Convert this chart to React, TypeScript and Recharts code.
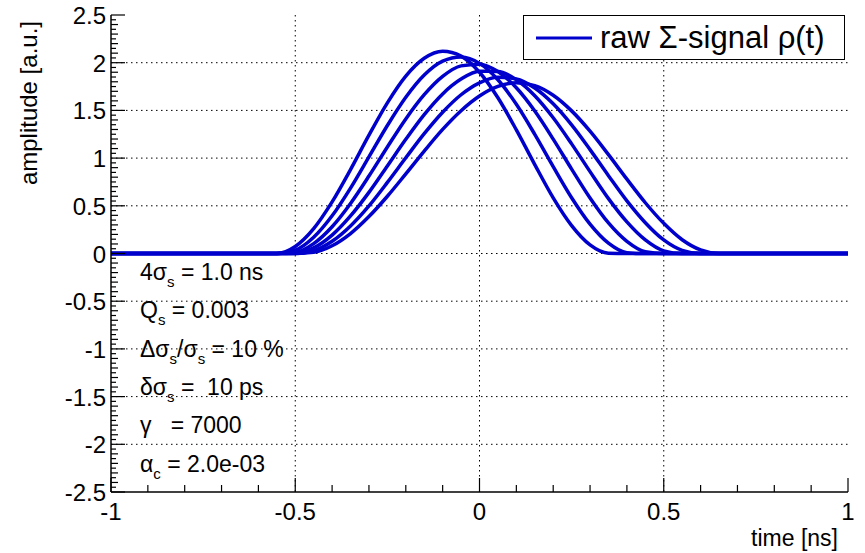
import React from 'react';
import { LineChart, Line, XAxis, YAxis, CartesianGrid, Legend } from 'recharts';

// time axis samples [ns]
const times = [-1, -0.6, -0.55, -0.5, -0.45, -0.4, -0.35, -0.3, -0.25, -0.2, -0.15, -0.1, -0.05, 0, 0.05, 0.1, 0.15, 0.2, 0.25, 0.3, 0.35, 0.4, 0.45, 0.5, 0.55, 0.6, 0.65, 0.7, 1];

// raw sum signal, one array per bunch
const rho1 = [0, 0, 0, 0.074, 0.261, 0.541, 0.88, 1.24, 1.579, 1.859, 2.046, 2.12, 2.069, 1.9, 1.632, 1.296, 0.932, 0.583, 0.292, 0.09, 0.003, 0, 0, 0, 0, 0, 0, 0, 0];
const rho2 = [0, 0, 0, 0.034, 0.17, 0.395, 0.686, 1.013, 1.342, 1.638, 1.871, 2.017, 2.06, 1.993, 1.821, 1.564, 1.249, 0.911, 0.585, 0.308, 0.108, 0.009, 0, 0, 0, 0, 0, 0, 0];
const rho3 = [0, 0, 0, 0.012, 0.104, 0.281, 0.525, 0.812, 1.117, 1.411, 1.665, 1.857, 1.967, 1.985, 1.907, 1.737, 1.493, 1.199, 0.885, 0.582, 0.32, 0.127, 0.018, 0, 0, 0, 0, 0, 0];
const rho4 = [0, 0, 0, 0.002, 0.059, 0.193, 0.394, 0.641, 0.918, 1.197, 1.456, 1.673, 1.828, 1.91, 1.909, 1.821, 1.654, 1.423, 1.149, 0.858, 0.575, 0.331, 0.142, 0.028, 0, 0, 0, 0, 0];
const rho5 = [0, 0, 0, 0, 0.029, 0.128, 0.289, 0.499, 0.745, 1.003, 1.256, 1.481, 1.664, 1.789, 1.847, 1.83, 1.735, 1.569, 1.348, 1.089, 0.816, 0.552, 0.323, 0.142, 0.033, 0, 0, 0, 0];
const rho6 = [0, 0, 0, 0, 0.012, 0.081, 0.209, 0.387, 0.6, 0.835, 1.074, 1.301, 1.497, 1.651, 1.751, 1.79, 1.76, 1.659, 1.495, 1.282, 1.036, 0.779, 0.532, 0.316, 0.144, 0.037, 0, 0, 0];

const signals = [rho1, rho2, rho3, rho4, rho5, rho6];

const xLabels = [-1, -0.5, 0, 0.5, 1];
const yLabels = [-2.5, -2, -1.5, -1, -0.5, 0, 0.5, 1, 1.5, 2, 2.5];
const xGrid = [-0.5, 0, 0.5];
const yGrid = [-2, -1.5, -1, -0.5, 0, 0.5, 1, 1.5, 2];

// minor tick positions
const xTicks = Array.from({ length: 21 }, (_, i) => Math.round(-10 + i) / 10);
const yTicks = Array.from({ length: 101 }, (_, i) => Math.round(-250 + i * 5) / 100);

const legendName = 'raw \u03A3-signal \u03C1(t)';

const notes = [
  [['4\u03C3', 's'], [' = 1.0 ns', '']],
  [['Q', 's'], [' = 0.003', '']],
  [['\u0394\u03C3', 's'], ['/\u03C3', 's'], [' = 10 %', '']],
  [['\u03B4\u03C3', 's'], [' =  10 ps', '']],
  [['\u03B3   = 7000', '']],
  [['\u03B1', 'c'], [' = 2.0e-03', '']],
];

const FONT = '"Liberation Sans", Arial, Helvetica, sans-serif';
const BLUE = '#0000cc';

const table = times.map((t, i) => {
  const row: any = { t };
  signals.forEach((s, k) => (row[`s${k}`] = s[i]));
  return row;
});

const isX = (v: number, list: number[]) => list.some((m) => Math.abs(m - v) < 1e-6);
const ySize = (v: number) => (isX(v, yLabels) ? 14 : Math.abs(Math.round(v * 100) % 10) < 1e-6 ? 7 : 5);

const BottomTick = (p: any) => {
  const v = p.payload.value;
  const major = isX(v, xLabels);
  return (
    <g>
      <line x1={p.x} x2={p.x} y1={p.y} y2={p.y - (major ? 14 : 7)} stroke="#000" strokeWidth={1.2} />
      {major && (
        <text x={p.x} y={p.y + 28} textAnchor="middle" fontFamily={FONT} fontSize={24} fill="#000">
          {String(v)}
        </text>
      )}
    </g>
  );
};

const TopTick = (p: any) => {
  const major = isX(p.payload.value, xLabels);
  return <line x1={p.x} x2={p.x} y1={p.y} y2={p.y + (major ? 14 : 7)} stroke="#000" strokeWidth={1.2} />;
};

const LeftTick = (p: any) => {
  const v = p.payload.value;
  const major = isX(v, yLabels);
  return (
    <g>
      <line x1={p.x} x2={p.x + ySize(v)} y1={p.y} y2={p.y} stroke="#000" strokeWidth={1.2} />
      {major && (
        <text x={p.x - 5} y={p.y + 9} textAnchor="end" fontFamily={FONT} fontSize={24} fill="#000">
          {String(v)}
        </text>
      )}
    </g>
  );
};

const RightTick = (p: any) => (
  <line x1={p.x} x2={p.x - ySize(p.payload.value)} y1={p.y} y2={p.y} stroke="#000" strokeWidth={1.2} />
);

const LegendBox = ({ payload }: any) => {
  const item = payload && payload[0];
  return (
    <div
      style={{
        width: 322,
        height: 45,
        border: '1.5px solid #000',
        background: '#fff',
        boxSizing: 'border-box',
        display: 'flex',
        alignItems: 'center',
        fontFamily: FONT,
        fontSize: 31,
        color: '#000',
      }}
    >
      <svg width={76} height={40}>
        <line x1={12} x2={68} y1={20} y2={20} stroke={item?.color ?? BLUE} strokeWidth={3} />
      </svg>
      <span style={{ whiteSpace: 'pre' }}>{item?.value ?? legendName}</span>
    </div>
  );
};

export default function App() {
  return (
    <div style={{ position: 'absolute', left: 0, top: 0, width: 865, height: 553, background: '#fff' }}>
      <LineChart width={865} height={553} data={table} margin={{ top: 15, right: 17, bottom: 0, left: 0 }}>
        <CartesianGrid
          stroke="#000"
          strokeWidth={1}
          strokeDasharray="1.5 3.5"
          verticalValues={xGrid}
          horizontalValues={yGrid}
        />
        <XAxis
          dataKey="t"
          type="number"
          domain={[-1, 1]}
          ticks={xTicks}
          interval={0}
          tickSize={0}
          tickMargin={0}
          tickLine={false}
          tick={(p: any) => <BottomTick {...p} />}
          height={61}
          axisLine={{ stroke: '#000', strokeWidth: 1.5 }}
          allowDataOverflow
        />
        <XAxis
          xAxisId="top"
          orientation="top"
          dataKey="t"
          type="number"
          domain={[-1, 1]}
          ticks={xTicks}
          interval={0}
          tickSize={0}
          tickMargin={0}
          tickLine={false}
          tick={(p: any) => <TopTick {...p} />}
          height={0}
          axisLine={{ stroke: '#000', strokeWidth: 1.5 }}
          allowDataOverflow
        />
        <YAxis
          type="number"
          domain={[-2.5, 2.5]}
          ticks={yTicks}
          interval={0}
          tickSize={0}
          tickMargin={0}
          tickLine={false}
          tick={(p: any) => <LeftTick {...p} />}
          width={111}
          axisLine={{ stroke: '#000', strokeWidth: 1.5 }}
          allowDataOverflow
        />
        <YAxis
          yAxisId="right"
          orientation="right"
          type="number"
          domain={[-2.5, 2.5]}
          ticks={yTicks}
          interval={0}
          tickSize={0}
          tickMargin={0}
          tickLine={false}
          tick={(p: any) => <RightTick {...p} />}
          width={0}
          axisLine={{ stroke: '#000', strokeWidth: 1.5 }}
          allowDataOverflow
        />
        <Legend
          layout="horizontal"
          verticalAlign="middle"
          align="center"
          wrapperStyle={{ left: 523, top: 15, width: 322, height: 45 }}
          content={(p: any) => <LegendBox {...p} />}
        />
        {signals.map((_, k) => (
          <Line
            key={k}
            dataKey={`s${k}`}
            name={legendName}
            type="monotone"
            stroke={BLUE}
            strokeWidth={3.5}
            dot={false}
            activeDot={false}
            isAnimationActive={false}
          />
        ))}
      </LineChart>

      <svg width={865} height={553} style={{ position: 'absolute', left: 0, top: 0, pointerEvents: 'none' }}>
        <text
          transform="translate(37, 21) rotate(-90)"
          textAnchor="end"
          fontFamily={FONT}
          fontSize={24}
          fill="#000"
        >
          amplitude [a.u.]
        </text>
        <text x={838} y={546} textAnchor="end" fontFamily={FONT} fontSize={23} fill="#000">
          time [ns]
        </text>
      </svg>

      {notes.map((line, i) => (
        <div
          key={i}
          style={{
            position: 'absolute',
            left: 140,
            top: 258 + i * 38.3,
            fontFamily: FONT,
            fontSize: 23,
            lineHeight: '28px',
            whiteSpace: 'pre',
            color: '#000',
          }}
        >
          {line.map(([txt, sub], j) => (
            <span key={j}>
              {txt}
              {sub && <span style={{ fontSize: 15, position: 'relative', top: 7 }}>{sub}</span>}
            </span>
          ))}
        </div>
      ))}
    </div>
  );
}
